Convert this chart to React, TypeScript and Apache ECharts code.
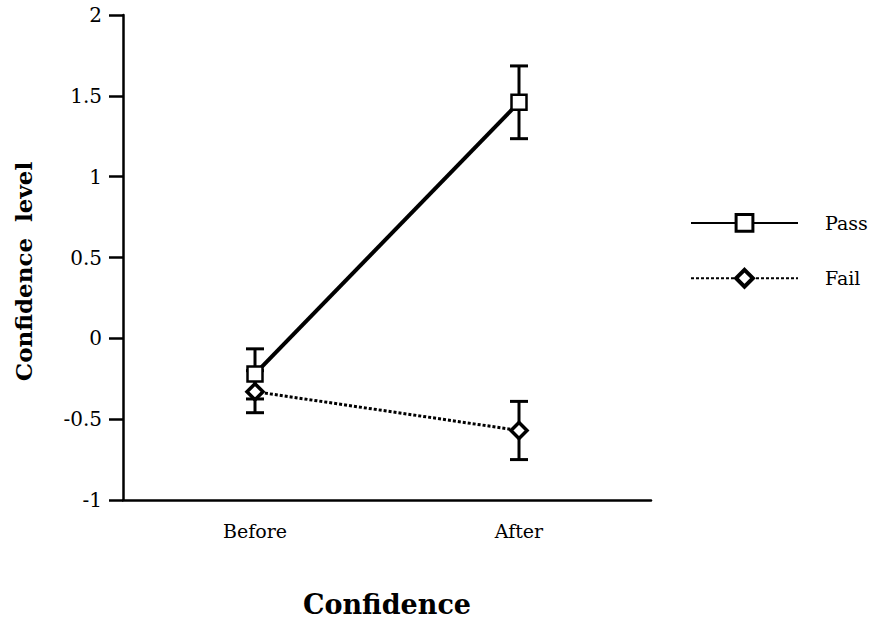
import React, { useEffect, useRef } from "react";
import * as echarts from "echarts";

const categories = ["Before", "After"];
const passMeans = [-0.22, 1.46];
const passErrors = [0.155, 0.225];
const failMeans = [-0.33, -0.57];
const failErrors = [0.13, 0.18];
const yTicks = { min: -1, max: 2, interval: 0.5 };

const FONT = "'DejaVu Serif', 'Liberation Serif', serif";

function errorSeries(name: string, means: number[], errs: number[]) {
  const data = means.map((m, i) => [i, m - errs[i], m + errs[i]]);
  return {
    type: "custom",
    name: name + "-err",
    z: 1,
    silent: true,
    data,
    renderItem: (params: any, api: any) => {
      const x = api.value(0);
      const lo = api.coord([x, api.value(1)]);
      const hi = api.coord([x, api.value(2)]);
      const half = 9;
      const style = { stroke: "#000", lineWidth: 3 };
      return {
        type: "group",
        children: [
          { type: "line", shape: { x1: lo[0], y1: lo[1], x2: hi[0], y2: hi[1] }, style },
          { type: "line", shape: { x1: lo[0] - half, y1: lo[1], x2: lo[0] + half, y2: lo[1] }, style },
          { type: "line", shape: { x1: hi[0] - half, y1: hi[1], x2: hi[0] + half, y2: hi[1] }, style },
        ],
      };
    },
  };
}

export default function App() {
  const ref = useRef<HTMLDivElement>(null);
  useEffect(() => {
    if (!ref.current) return;
    const chart = echarts.init(ref.current, null, { renderer: "svg" });
    chart.setOption({
      animation: false,
      backgroundColor: "#fff",
      textStyle: { fontFamily: FONT, color: "#000" },
      grid: { left: 123, right: 227, top: 15, bottom: 121, containLabel: false, outerBoundsMode: "none" },
      legend: {
        orient: "vertical",
        left: 690,
        top: 213,
        padding: 0,
        itemWidth: 107,
        itemHeight: 21,
        itemGap: 35,
        textStyle: { fontFamily: FONT, fontSize: 19, color: "#000", padding: [0, 0, 0, 22] },
        data: [
          { name: "Pass", itemStyle: { borderWidth: 3 } },
          { name: "Fail", itemStyle: { borderWidth: 4 } },
        ],
      },
      xAxis: {
        type: "category",
        data: categories,
        boundaryGap: true,
        name: "Confidence",
        nameLocation: "middle",
        nameGap: 91,
        nameTextStyle: { fontFamily: FONT, fontSize: 27, fontWeight: "bold", color: "#000" },
        axisLine: { onZero: false, lineStyle: { color: "#000", width: 2.5 } },
        axisTick: { alignWithLabel: true, length: 12, lineStyle: { color: "#000", width: 2.5 } },
        axisLabel: { fontFamily: FONT, fontSize: 19, color: "#000", margin: 21 },
      },
      yAxis: {
        type: "value",
        min: yTicks.min,
        max: yTicks.max,
        interval: yTicks.interval,
        name: "Confidence  level",
        nameLocation: "middle",
        nameGap: 88,
        nameRotate: 90,
        nameTextStyle: { fontFamily: FONT, fontSize: 23, fontWeight: "bold", color: "#000", padding: [0, 28, 0, 0] },
        axisLine: { show: true, lineStyle: { color: "#000", width: 2.5 } },
        axisTick: { show: true, length: 14, lineStyle: { color: "#000", width: 2.5 } },
        axisLabel: { fontFamily: FONT, fontSize: 20, color: "#000", margin: 21 },
        splitLine: { show: false },
      },
      series: [
        errorSeries("Pass", passMeans, passErrors),
        errorSeries("Fail", failMeans, failErrors),
        {
          type: "line",
          name: "Fail",
          z: 3,
          data: failMeans,
          symbol: "diamond",
          symbolSize: 16,
          itemStyle: { color: "#fff", borderColor: "#000", borderWidth: 3.5 },
          lineStyle: { color: "#000", width: 3, type: [3, 2] },
        },
        {
          type: "line",
          name: "Pass",
          z: 4,
          data: passMeans,
          symbol: "rect",
          symbolSize: 15,
          itemStyle: { color: "#fff", borderColor: "#000", borderWidth: 2.5 },
          lineStyle: { color: "#000", width: 4 },
        },
      ],
    });
    return () => chart.dispose();
  }, []);
  return (
    <div
      ref={ref}
      style={{ position: "absolute", left: 0, top: 0, width: 878, height: 621 }}
    />
  );
}
